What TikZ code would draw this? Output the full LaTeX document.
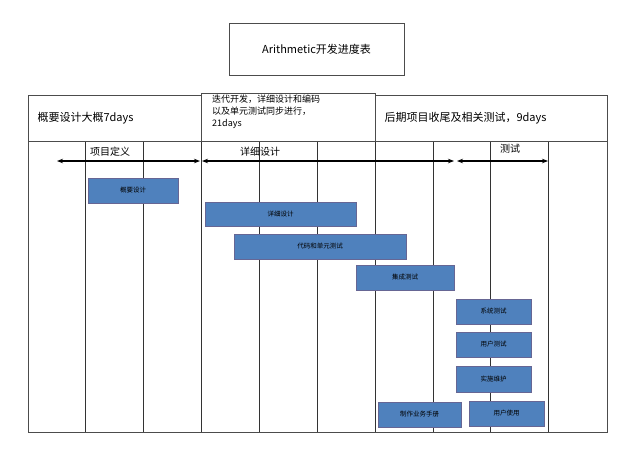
\documentclass[tikz,border=0pt]{standalone}
\usepackage{fontspec}
\setmainfont{Noto Sans CJK SC}
\usetikzlibrary{arrows.meta}
\begin{document}
\begin{tikzpicture}[x=1pt,y=-1pt,
  hbox/.style={draw=black!70,fill=white,inner sep=4pt},
  bar/.style={draw=blue!30!black!60,fill=barblue,font=\fontsize{6.5}{8}\selectfont,text=black},
  span/.style={{Stealth[length=6pt]}-{Stealth[length=6pt]},line width=1.6pt},
  lbl/.style={font=\fontsize{10}{12}\selectfont}]
\definecolor{barblue}{HTML}{4F81BD}
\useasboundingbox (0,0) rectangle (642,456);
\fill[white] (0,0) rectangle (642,456);
\draw[black!70] (28,95) rectangle (607,432);
\foreach \x in {85,143,201,259,317,375,433,490,548}
  \draw[black!80] (\x,141) -- (\x,432);
\node[hbox,minimum width=175pt,minimum height=52pt] (title) at (316.5,49) {\fontsize{11}{13}\selectfont Arithmetic开发进度表};
\draw[black!70,fill=white] (28,95) rectangle (201,141);
\node[anchor=west,font=\fontsize{11}{13}\selectfont] (h1) at (34,118) {概要设计大概7days};
\draw[black!70,fill=white] (201,93) rectangle (375,141);
\node[anchor=north west,align=left,font=\fontsize{9}{12}\selectfont,inner sep=0pt] (h2) at (212,95) {迭代开发，详细设计和编码\\以及单元测试同步进行，\\21days};
\draw[black!70,fill=white] (375,95) rectangle (607,141);
\node[anchor=west,font=\fontsize{11}{13}\selectfont] (h3) at (381,118) {后期项目收尾及相关测试，9days};
\coordinate (a1) at (57,161); \coordinate (a2) at (200,161);
\coordinate (b1) at (202,161); \coordinate (b2) at (454,161);
\coordinate (c1) at (457,161); \coordinate (c2) at (548,161);
\draw[span] (a1) -- (a2);
\draw[span] (b1) -- (b2);
\draw[span] (c1) -- (c2);
\node[lbl] (l1) at (110,152) {项目定义};
\node[lbl] (l2) at (260,152) {详细设计};
\node[lbl] (l3) at (510,149) {测试};
\node[bar,minimum width=90pt,minimum height=25pt] (t1) at (133,190.5) {概要设计};
\node[bar,minimum width=151pt,minimum height=24pt] (t2) at (280.5,214) {详细设计};
\node[bar,minimum width=172pt,minimum height=25pt] (t3) at (320,246.5) {代码和单元测试};
\node[bar,minimum width=98pt,minimum height=25pt] (t4) at (405,277.5) {集成测试};
\node[bar,minimum width=75pt,minimum height=25pt] (t5) at (493.5,311.5) {系统测试};
\node[bar,minimum width=75pt,minimum height=25pt] (t6) at (493.5,344.5) {用户测试};
\node[bar,minimum width=75pt,minimum height=26pt] (t7) at (493.5,379) {实施维护};
\node[bar,minimum width=83pt,minimum height=25pt] (t8) at (419.5,414.5) {制作业务手册};
\node[bar,minimum width=75pt,minimum height=25pt] (t9) at (506.5,413.5) {用户使用};
\end{tikzpicture}
\end{document}
